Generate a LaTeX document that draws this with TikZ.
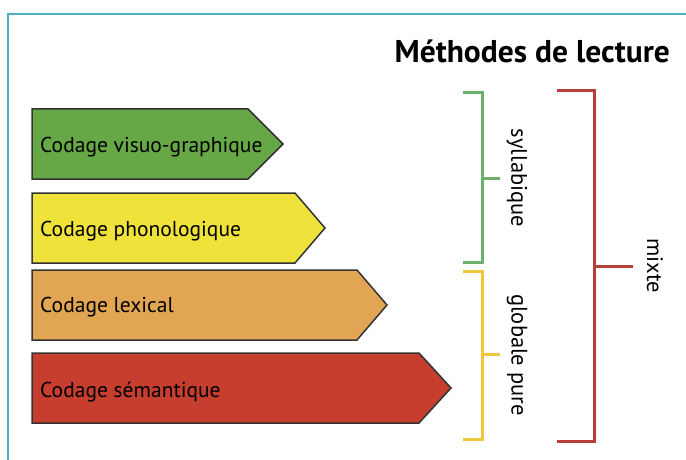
\documentclass[tikz,border=0pt]{standalone}
\usepackage{fontspec}
\setmainfont{PT Sans}
\usepackage{xcolor}
\usetikzlibrary{arrows.meta}

\definecolor{cadre}{HTML}{4BAFC8}
\definecolor{vert}{HTML}{67A846}
\definecolor{jaune}{HTML}{EFE33B}
\definecolor{orange}{HTML}{E2A553}
\definecolor{rouge}{HTML}{C63E2E}
\definecolor{vertclair}{HTML}{6BB06E}
\definecolor{jaunefonce}{HTML}{F0C63C}
\definecolor{rougefonce}{HTML}{B83D3D}

\tikzset{
    fleche/.style={draw=black!80, line width=1.5pt, line join=miter},
    etiquette/.style={anchor=base west, font=\fontsize{21.5}{24}\selectfont, inner sep=0pt},
    crochet/.style={line width=3pt},
    methode/.style={rotate=-90, font=\fontsize{22.5}{25}\selectfont, inner sep=0pt}
}

\begin{document}
\begin{tikzpicture}[x=1pt, y=-1pt]
        \useasboundingbox (0,0) rectangle (686,460);
        \draw[cadre, line width=2pt] (8,462) -- (8,14) -- (688,14);

        \node[anchor=base east, font=\bfseries\fontsize{31.5}{34}\selectfont, inner sep=0pt] (titre) at (670,63) {Méthodes de lecture};

        % les quatre codages
        \fill[vert] (32,109) -- (248,109) -- (283,144) -- (248,179) -- (32,179) -- cycle;
        \draw[fleche] (32,109) -- (248,109) -- (283,144) -- (248,179) -- (32,179) -- cycle;
        \node[etiquette] (visuo) at (40,153) {Codage visuo-graphique};

        \fill[jaune] (32,193) -- (295,193) -- (325,228) -- (295,263) -- (32,263) -- cycle;
        \draw[fleche] (32,193) -- (295,193) -- (325,228) -- (295,263) -- (32,263) -- cycle;
        \node[etiquette] (phono) at (40,236) {Codage phonologique};

        \fill[orange] (32,270) -- (357,270) -- (387,305) -- (357,340) -- (32,340) -- cycle;
        \draw[fleche] (32,270) -- (357,270) -- (387,305) -- (357,340) -- (32,340) -- cycle;
        \node[etiquette] (lexical) at (40,312) {Codage lexical};

        \fill[rouge] (32,353) -- (419,353) -- (451,388) -- (419,423) -- (32,423) -- cycle;
        \draw[fleche] (32,353) -- (419,353) -- (451,388) -- (419,423) -- (32,423) -- cycle;
        \node[etiquette] (semantique) at (40,397) {Codage sémantique};

        % les crochets
        \draw[crochet, vertclair] (463,93) -- (482,93) -- (482,262) -- (463,262);
        \draw[crochet, vertclair] (482,178) -- (500,178);
        \node[methode] (syllabique) at (517,178) {syllabique};

        \draw[crochet, jaunefonce] (463,271) -- (482,271) -- (482,439) -- (463,439);
        \draw[crochet, jaunefonce] (482,354) -- (500,354);
        \node[methode] (globale) at (517,355) {globale pure};

        \draw[crochet, rougefonce] (557,91) -- (594,91) -- (594,441) -- (557,441);
        \draw[crochet, rougefonce] (594,266) -- (633,266);
        \node[methode] (mixte) at (655,266) {mixte};
    \end{tikzpicture}
\end{document}
